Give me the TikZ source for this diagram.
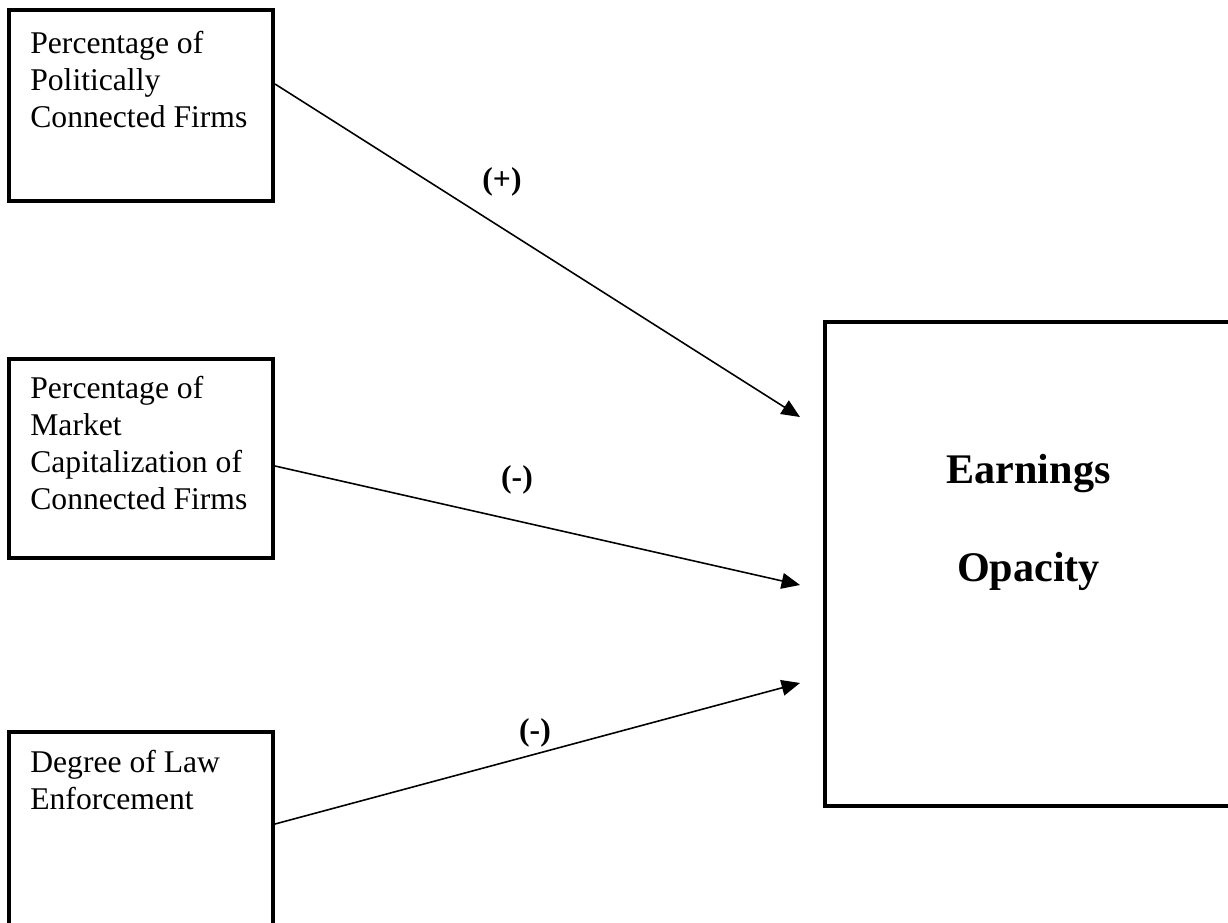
\documentclass[tikz,border=0pt]{standalone}
\usepackage{fontspec}
\setmainfont{Liberation Serif}
\usetikzlibrary{arrows.meta,positioning}
\begin{document}
\begin{tikzpicture}[x=0.02cm, y=-0.02cm,
  box/.style  = {shape=rectangle, draw, line width=2.3pt, inner sep=0pt},
  txt/.style  = {align=left, inner sep=0pt,
    font=\fontsize{18}{21}\selectfont},
  sign/.style = {font=\fontsize{18}{21}\selectfont\bfseries},
  link/.style = {line width=0.9pt,
    -{Triangle[length=10.5pt,width=9pt]}}]
\useasboundingbox (0,0) rectangle (1228,923);
\node[box, minimum width=5.28cm, minimum height=3.82cm] (pol) at (141,105.5) {};
\node[box, minimum width=5.28cm, minimum height=3.98cm] (mkt) at (141,458.5) {};
\node[box, minimum width=5.28cm, minimum height=4.56cm] (law) at (141,846) {};
\node[box, minimum width=8.14cm, minimum height=9.68cm] (opq) at (1028.5,564) {};
\node[txt, below right=4.6mm and 4.6mm of pol.north west] (polt)
  {Percentage of\\Politically\\Connected Firms};
\node[txt, below right=3.8mm and 4.6mm of mkt.north west] (mktt)
  {Percentage of\\Market\\Capitalization of\\Connected Firms};
\node[txt, below right=4.0mm and 4.6mm of law.north west] (lawt)
  {Degree of Law\\Enforcement};
\node[align=center, font=\fontsize{24}{56}\selectfont\bfseries]
  (opqt) at ([yshift=8.3mm]opq.center) {Earnings\\Opacity};
\coordinate (t1) at ([xshift=-4.6mm, yshift=29.4mm]opq.west);
\coordinate (t2) at ([xshift=-4.6mm, yshift=-4.2mm]opq.west);
\coordinate (t3) at ([xshift=-4.6mm, yshift=-23.8mm]opq.west);
\draw[link] ([yshift=4.3mm]pol.east) -- (t1);
\draw[link] ([yshift=-1.5mm]mkt.east) -- (t2);
\draw[link] ([yshift=4.4mm]law.east) -- (t3);
\node[sign] (s1) at (502,182) {(+)};
\node[sign] (s2) at (517,480) {(-)};
\node[sign] (s3) at (535,733) {(-)};
\end{tikzpicture}
\end{document}
